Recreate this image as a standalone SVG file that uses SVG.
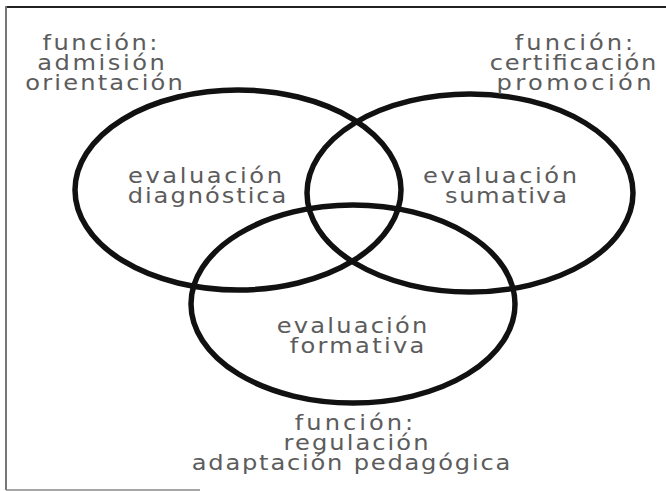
<svg xmlns="http://www.w3.org/2000/svg" width="666" height="491" viewBox="0 0 666 491">
<style>
text{font-family:"DejaVu Sans","Liberation Sans",sans-serif;fill:#5c5c5c;text-anchor:middle;font-size:21px;}
.ring{fill:none;stroke:#111;stroke-width:5.5;}
</style>
<rect width="666" height="491" fill="#fff"/>
<g id="frame" fill="none">
<line x1="6" y1="7" x2="666" y2="7" stroke="#222" stroke-width="2"/>
<line x1="6" y1="6" x2="6" y2="490" stroke="#777" stroke-width="2"/>
<line x1="6" y1="490" x2="200" y2="490" stroke="#888" stroke-width="1.5"/>
</g>
<g id="connectors"></g>
<g id="diagnostica">
<ellipse class="ring" cx="238" cy="190" rx="163" ry="100"/>
<text transform="translate(205,183) scale(1.15,1)" textLength="134" lengthAdjust="spacing">evaluación</text>
<text transform="translate(207,203) scale(1.15,1)" textLength="138" lengthAdjust="spacing">diagnóstica</text>
</g>
<g id="sumativa">
<ellipse class="ring" cx="470" cy="193" rx="163" ry="99"/>
<text transform="translate(500,183) scale(1.15,1)" textLength="134" lengthAdjust="spacing">evaluación</text>
<text transform="translate(506,203) scale(1.15,1)" textLength="106" lengthAdjust="spacing">sumativa</text>
</g>
<g id="formativa">
<ellipse class="ring" cx="353" cy="304" rx="162" ry="99"/>
<text transform="translate(352,333) scale(1.15,1)" textLength="131" lengthAdjust="spacing">evaluación</text>
<text transform="translate(357,353) scale(1.15,1)" textLength="117" lengthAdjust="spacing">formativa</text>
</g>
<g id="label-diagnostica">
<text transform="translate(100,50) scale(1.15,1)" textLength="100" lengthAdjust="spacing">función:</text>
<text transform="translate(101,70) scale(1.15,1)" textLength="111" lengthAdjust="spacing">admisión</text>
<text transform="translate(104,90) scale(1.15,1)" textLength="137" lengthAdjust="spacing">orientación</text>
</g>
<g id="label-sumativa">
<text transform="translate(574,50) scale(1.15,1)" textLength="103" lengthAdjust="spacing">función:</text>
<text transform="translate(573,70) scale(1.15,1)" textLength="145" lengthAdjust="spacing">certificación</text>
<text transform="translate(574,90) scale(1.15,1)" textLength="135" lengthAdjust="spacing">promoción</text>
</g>
<g id="label-formativa">
<text transform="translate(354,430) scale(1.15,1)" textLength="103" lengthAdjust="spacing">función:</text>
<text transform="translate(356,450) scale(1.15,1)" textLength="126" lengthAdjust="spacing">regulación</text>
<text transform="translate(351,470) scale(1.15,1)" textLength="277" lengthAdjust="spacing">adaptación pedagógica</text>
</g>
</svg>
